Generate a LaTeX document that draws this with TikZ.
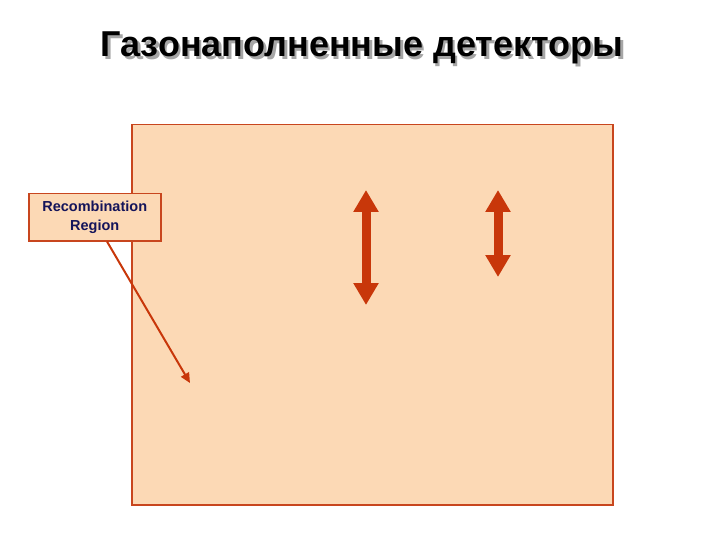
\documentclass[tikz,border=0pt]{standalone}
\usepackage{fontspec}
\setmainfont{Liberation Sans}
\usetikzlibrary{arrows.meta,calc}
\definecolor{peach}{RGB}{252,217,181}
\definecolor{rim}{RGB}{200,70,30}
\definecolor{arr}{RGB}{200,55,10}
\definecolor{navy}{RGB}{20,20,90}
\tikzset{
  dbl/.style={line width=9pt,draw=arr,{Triangle[width=24pt,length=22pt]}-{Triangle[width=24pt,length=22pt]}},
  lbl/.style={draw=rim,line width=1.5pt,fill=peach,text=navy,font=\fontsize{14.5pt}{19pt}\selectfont\bfseries,align=center,minimum width=132pt,minimum height=47pt,inner sep=1pt},
  ttl/.style={font=\fontsize{36pt}{40pt}\selectfont\bfseries}
}
\begin{document}
\begin{tikzpicture}[x=1pt,y=-1pt]
\useasboundingbox (0,0) rectangle (720,540);
\node[ttl,text=gray!70] (sh) at (364.5,50.5) {Газонаполненные детекторы};
\node[ttl,text=black] (title) at (362,48) {Газонаполненные детекторы};
\node[draw=rim,line width=1.5pt,fill=peach,minimum width=481pt,minimum height=380pt,anchor=north west,inner sep=0pt] (box) at (131,124) {};
\node[lbl,anchor=north west] (label) at (28,193) {Recombination\\Region};
\coordinate (tip) at (190,383);
\coordinate (s) at ($(label.south west)+(79,0)$);
\draw[arr,line width=2pt,-{Triangle[width=9pt,length=10pt]}] (s) -- (tip);
\coordinate (a1) at (366,190); \coordinate (a2) at (366,305);
\coordinate (b1) at (498,190); \coordinate (b2) at (498,277);
\draw[dbl] (a1) -- (a2);
\draw[dbl] (b1) -- (b2);
\end{tikzpicture}
\end{document}
